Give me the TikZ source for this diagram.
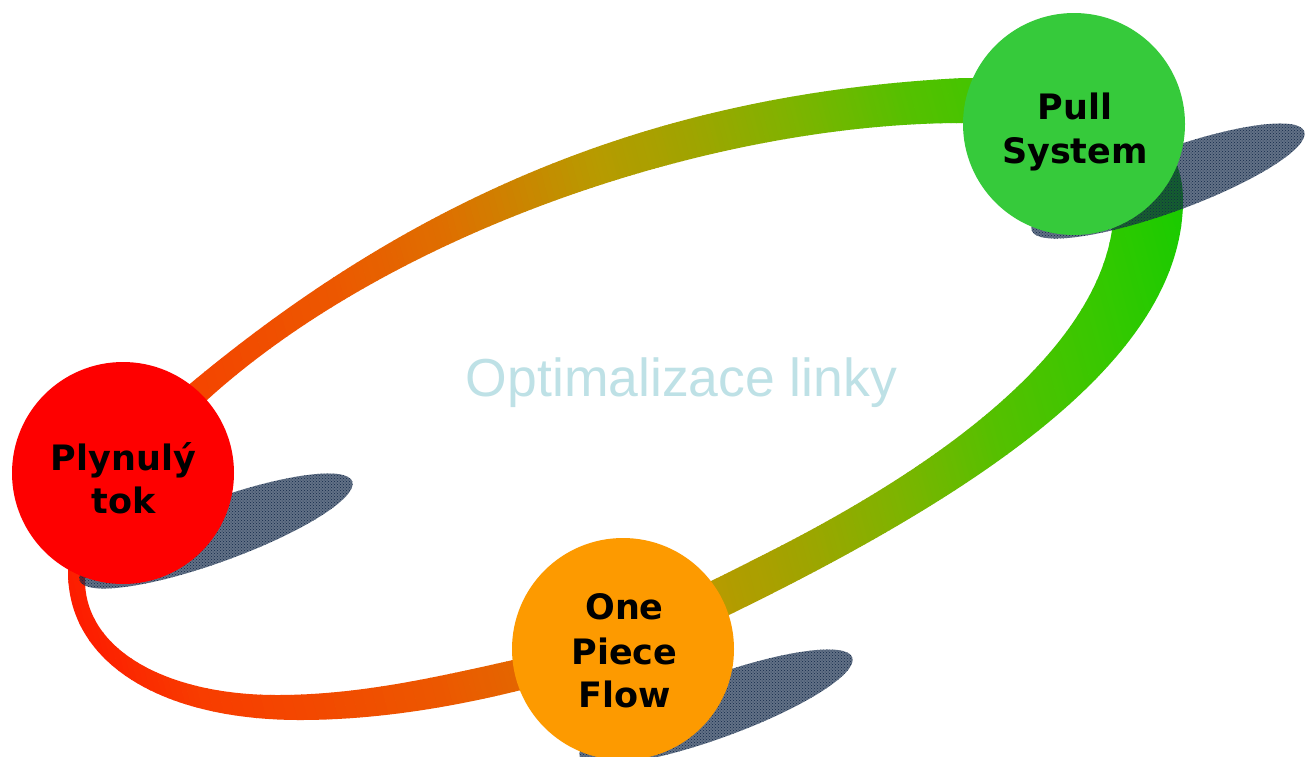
\documentclass[tikz,border=0pt]{standalone}
\usepackage{fontspec}
\setmainfont{Liberation Sans}
\newfontfamily\lblfont{DejaVu Sans}
\usetikzlibrary{patterns}
\definecolor{g0}{HTML}{FF1400}
\definecolor{g1}{HTML}{F83C00}
\definecolor{g2}{HTML}{EC5800}
\definecolor{g3}{HTML}{DE7000}
\definecolor{g4}{HTML}{B89A00}
\definecolor{g5}{HTML}{A0A400}
\definecolor{g6}{HTML}{7DB400}
\definecolor{g7}{HTML}{55C000}
\definecolor{g8}{HTML}{38C800}
\definecolor{g9}{HTML}{14CC00}
\definecolor{tokred}{HTML}{FE0000}
\definecolor{pullgreen}{HTML}{36CA3B}
\definecolor{flowor}{HTML}{FD9A00}
\definecolor{shadownavy}{HTML}{122848}
\definecolor{titleblue}{HTML}{BEE1E6}
\tikzset{
  bubble/.style={circle, minimum size=222pt, inner sep=0pt, draw=none},
  lbl/.style={font={\lblfont\bfseries\fontsize{35}{44}\selectfont}, anchor=base, inner sep=0pt, text=black},
  shadowshape/.style={fill=shadownavy, fill opacity=0.66},
  shadowtex/.style={pattern=crosshatch dots, pattern color=shadownavy},
}
\begin{document}
\begin{tikzpicture}[x=1pt,y=-1pt]
\useasboundingbox (0,0) rectangle (1312,756);
\fill[white] (0,0) rectangle (1312,756);

% gradient ring
\begin{scope}[even odd rule]
\clip
  (68,572) .. controls (68,490) and (129,434) .. (191,383)
  .. controls (422,191) and (663,93) .. (963,78)
  .. controls (1080,78) and (1183,110) .. (1183,200)
  .. controls (1183,350) and (1003,481) .. (733,613)
  .. controls (643,657) and (603,670) .. (513,692)
  .. controls (443,709) and (370,720) .. (300,720)
  .. controls (160,720) and (68,662) .. (68,572) -- cycle
  (85,580) .. controls (85,510) and (137,464) .. (207,400)
  .. controls (392,232) and (713,123) .. (963,123)
  .. controls (1040,123) and (1121,170) .. (1112,230)
  .. controls (1097,330) and (989.5,440.5) .. (767,553)
  .. controls (696,589) and (591,642) .. (513,660)
  .. controls (433,678) and (357,695) .. (277,695)
  .. controls (167,695) and (85,650) .. (85,580) -- cycle;
\begin{scope}[rotate=15]
  \fill[g0] (-500,-900) rectangle (-109.5,1800);
  \fill[g9] (1110,-900) rectangle (1600,1800);
  \foreach \sa/\sb/\ca/\cb in {-110/12/g0/g1, 12/250/g1/g2, 250/375/g2/g3, 375/530/g3/g4, 530/630/g4/g5, 630/740/g5/g6, 740/850/g6/g7, 850/975/g7/g8, 975/1110/g8/g9}{
    \foreach \k in {0,...,23}{
      \pgfmathsetmacro\xa{\sa+(\sb-\sa)*\k/24}
      \pgfmathsetmacro\xb{\sa+(\sb-\sa)*(\k+1)/24+0.6}
      \pgfmathsetmacro\pc{(\k+0.5)/24*100}
      \fill[\cb!\pc!\ca] (\xa,-900) rectangle (\xb,1800);
    }
  }
\end{scope}
\end{scope}

% shadows
\fill[shadowshape, rotate around={20:(216,531)}] (216,531) ellipse [x radius=145, y radius=31];
\fill[shadowtex, rotate around={20:(216,531)}] (216,531) ellipse [x radius=145, y radius=31];
\fill[shadowshape, rotate around={20:(1168,181)}] (1168,181) ellipse [x radius=145, y radius=31];
\fill[shadowtex, rotate around={20:(1168,181)}] (1168,181) ellipse [x radius=145, y radius=31];
\fill[shadowshape, rotate around={20:(716,707)}] (716,707) ellipse [x radius=145, y radius=31];
\fill[shadowtex, rotate around={20:(716,707)}] (716,707) ellipse [x radius=145, y radius=31];

% circles
\node[bubble, fill=tokred] (tok) at (123,473) {};
\node[bubble, fill=pullgreen] (pull) at (1074,124) {};
\node[bubble, fill=flowor] (flow) at (623,649) {};

% labels
\node[lbl] (tok1) at (123.5,470) {Plynulý};
\node[lbl] (tok2) at (123.5,513) {tok};
\node[lbl] (pull1) at (1075,119) {Pull};
\node[lbl] (pull2) at (1075,163) {System};
\node[lbl] (flow1) at (624.5,619) {One};
\node[lbl] (flow2) at (624.5,664) {Piece};
\node[lbl] (flow3) at (624.5,707) {Flow};

% title
\node[font={\fontsize{53.5}{60}\selectfont}, text=titleblue, anchor=base, inner sep=0pt] (title) at (681.5,396) {Optimalizace linky};
\end{tikzpicture}
\end{document}
